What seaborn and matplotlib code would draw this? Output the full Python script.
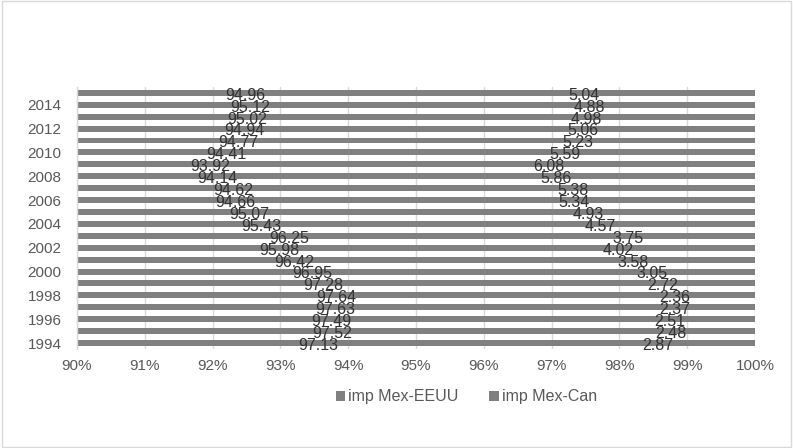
import matplotlib
matplotlib.use("Agg")
import matplotlib.pyplot as plt
from matplotlib.patches import Patch, Rectangle
from matplotlib.ticker import FuncFormatter
import seaborn as sns
import pandas as pd

years = [2015, 2014, 2013, 2012, 2011, 2010, 2009, 2008, 2007, 2006, 2005,
         2004, 2003, 2002, 2001, 2000, 1999, 1998, 1997, 1996, 1995, 1994]
imp_eeuu = [94.96, 95.12, 95.02, 94.94, 94.77, 94.41, 93.92, 94.14, 94.62, 94.66, 95.07,
            95.43, 96.25, 95.98, 96.42, 96.95, 97.28, 97.64, 97.63, 97.49, 97.52, 97.13]
imp_can = [5.04, 4.88, 4.98, 5.06, 5.23, 5.59, 6.08, 5.86, 5.38, 5.34, 4.93,
           4.57, 3.75, 4.02, 3.58, 3.05, 2.72, 2.36, 2.37, 2.51, 2.48, 2.87]
series_names = ["imp Mex-EEUU", "imp Mex-Can"]

df = pd.DataFrame({"year": [str(y) for y in years], "eeuu": imp_eeuu, "can": imp_can})
df["total"] = df["eeuu"] + df["can"]
order = df["year"].tolist()

sns.set_theme(style="white")
plt.rcParams["font.family"] = ["Liberation Sans", "DejaVu Sans"]

bar_color = "#808080"
tick_color = "#595959"
label_color = "#333333"
tick_fs = 11
label_fs = 11.5

fig = plt.figure(figsize=(7.93, 4.48), dpi=100)
ax = fig.add_axes([0.097, 0.221, 0.855, 0.585])

# stacked horizontal bars: total (Can on top of EEUU), then EEUU
sns.barplot(data=df, x="total", y="year", order=order, orient="h",
            color=bar_color, saturation=1, width=0.5, ax=ax, linewidth=0)
sns.barplot(data=df, x="eeuu", y="year", order=order, orient="h",
            color=bar_color, saturation=1, width=0.5, ax=ax, linewidth=0)

xmin, xmax = 90, 100
ax.set_xlim(xmin, xmax)
ax.set_xticks(range(xmin, xmax + 1))
ax.xaxis.set_major_formatter(FuncFormatter(lambda v, p: f"{v:.0f}%"))
ax.grid(axis="x", color="#d9d9d9", linewidth=1)
ax.set_axisbelow(True)

# value labels at the middle of each visible segment
for i, (e, c) in enumerate(zip(imp_eeuu, imp_can)):
    ax.text((xmin + e) / 2, i + 0.2, f"{e:.2f}", ha="center", va="center",
            fontsize=label_fs, color=label_color)
    ax.text(e + c / 2, i + 0.2, f"{c:.2f}", ha="center", va="center",
            fontsize=label_fs, color=label_color)

ax.set_yticks([i for i, y in enumerate(order) if int(y) % 2 == 0])
ax.set_yticklabels([y for y in order if int(y) % 2 == 0])
ax.set_ylim(len(order) - 0.5, -0.5)
ax.set_xlabel("")
ax.set_ylabel("")
ax.tick_params(axis="both", labelsize=tick_fs, colors=tick_color, length=0)
ax.tick_params(axis="x", pad=7)
ax.tick_params(axis="y", pad=11)

for side in ["top", "right", "bottom"]:
    ax.spines[side].set_visible(False)
ax.spines["left"].set_color("#d9d9d9")
ax.spines["left"].set_linewidth(1)

handles = [Patch(facecolor=bar_color, edgecolor="none", label=n) for n in series_names]
fig.legend(handles=handles, loc="center", bbox_to_anchor=(0.588, 0.114), ncol=2,
           frameon=False, fontsize=label_fs, handlelength=0.6, handleheight=0.6,
           handletextpad=0.2, columnspacing=1.9, labelcolor=tick_color)

fig.patches.append(Rectangle((0.002, 0.002), 0.996, 0.996, transform=fig.transFigure,
                             fill=False, edgecolor="#d9d9d9", linewidth=1))

fig.savefig("out.png", dpi=100)
